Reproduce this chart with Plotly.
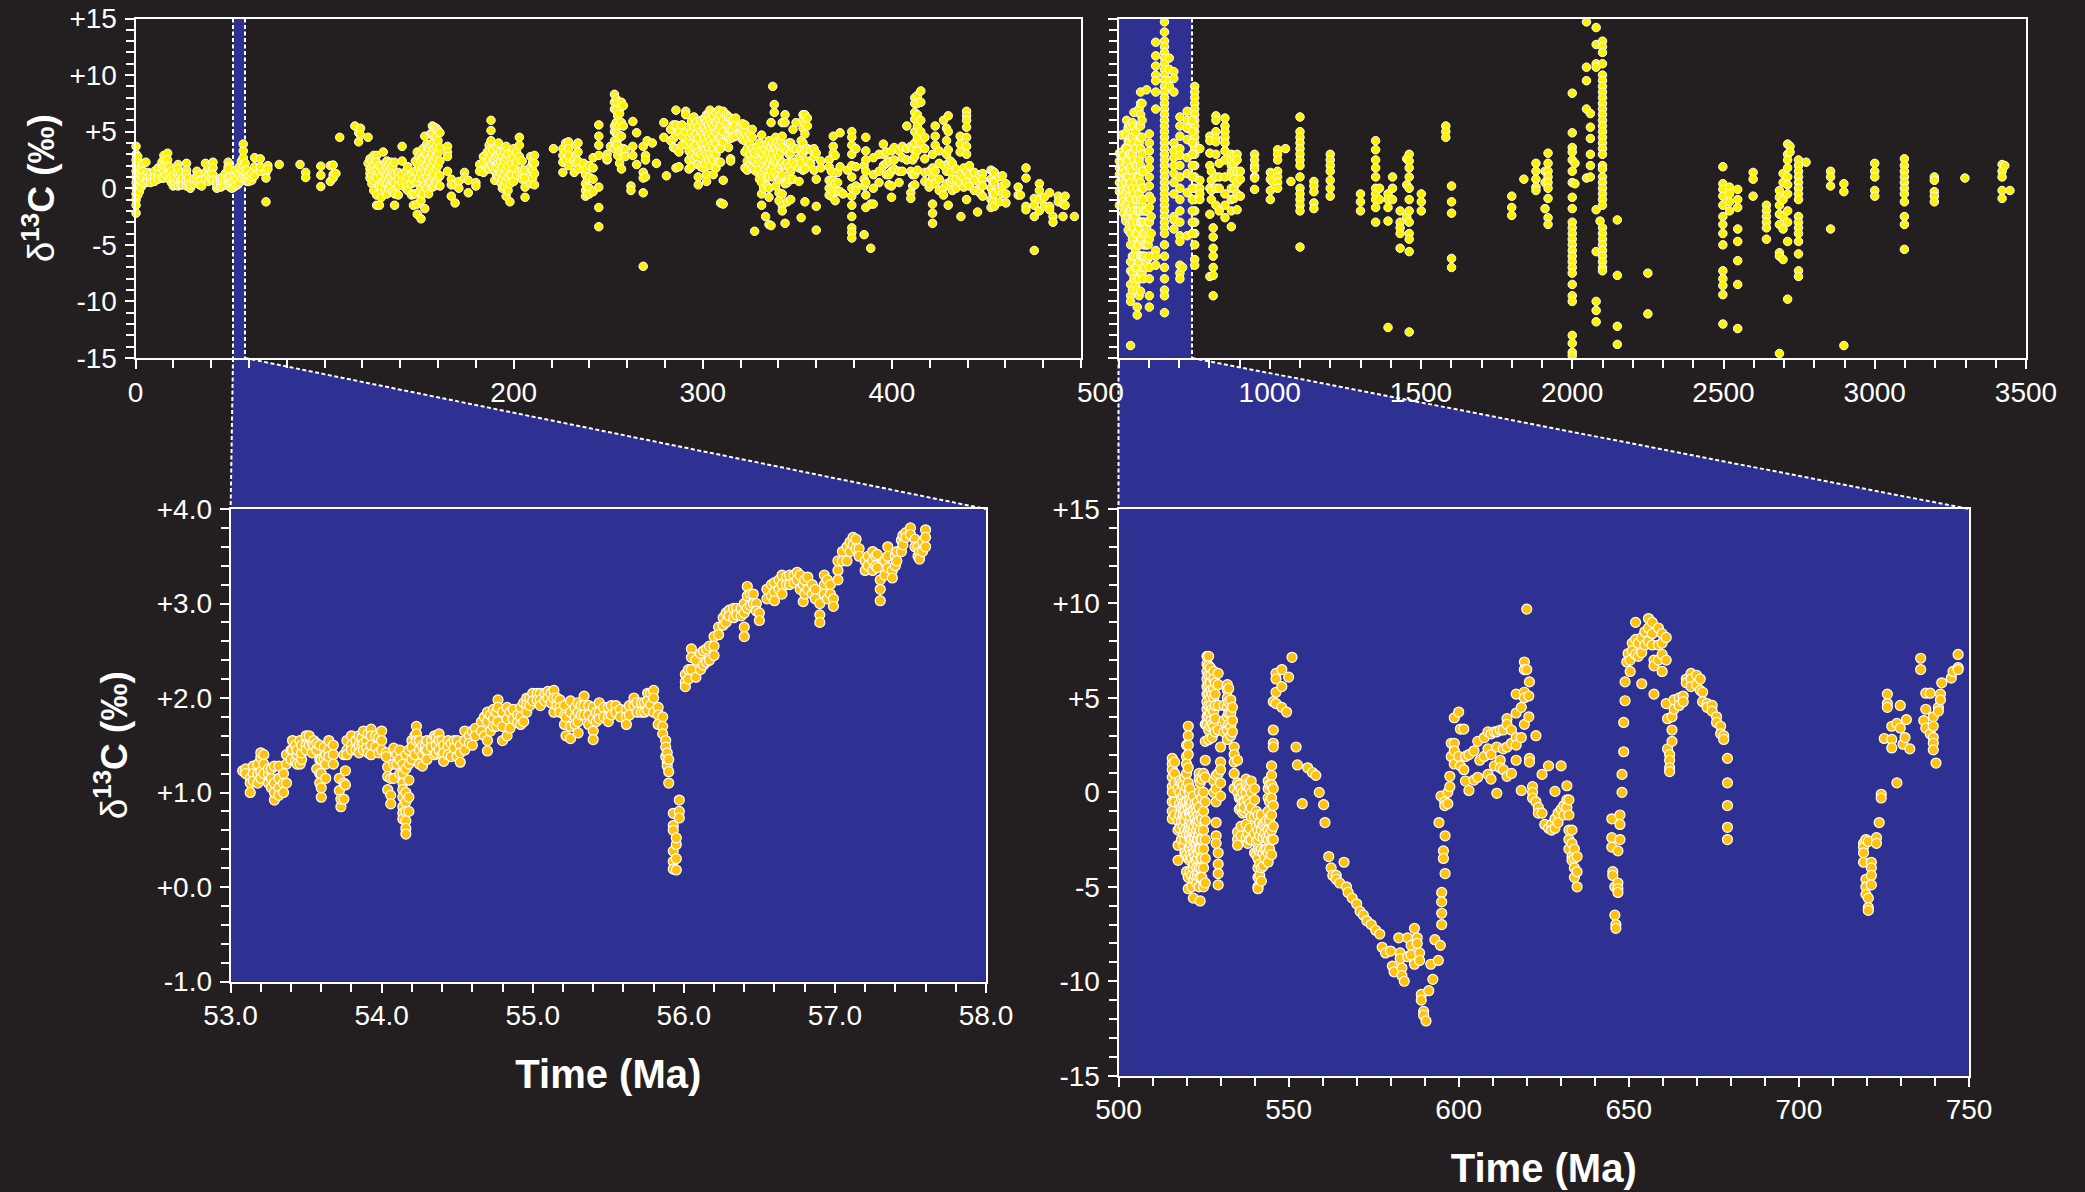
import plotly.graph_objects as go

BG = "#231F20"; BLUE = "#2E3192"; YELLOW = "#FFF200"; GOLD = "#FFC20E"; WHITE = "#FFFFFF"
W, H = 2085, 1192

# (age in Ma, d13C values read at that age)
panel_a_columns = [
(0.3,[3.7,3,2.5,2,1.5,1,0.5,0,-0.5,-1,-1.5,-2.2]),(1.2,[2.8,2.2,1.6,0.9,0.2,-0.6]),(2,[1.2,0.8,0.2,-0.3]),(3,[1.6,1.1,0.6,0.1]),(4,[2.2,1.5,1,0.4]),(5.5,[2.3,1.1,0.5]),(6.5,[1.4,0.9,0.6]),
(8,[1.3,0.8,0.5]),(10,[1.5,0.9,0.6]),(12,[1.8,1.2,0.8]),(14,[2.3,1.8,0.9]),(15,[2.9,2.5,2,1.5,0.9]),(16,[2.6,1.9,1.2]),(17,[3.1,2.5,2,1.1]),(18,[1.9,1.3,0.8]),
(19,[1.5,1,0.5]),(20,[1.1,0.6,0.2]),(21,[0.3,0.6,0.9]),(22.5,[2.1,1.7,1.3,0.8,0.2]),(24,[1.3,0.7,0.3]),(25,[0.5,0.3,0.9]),(27,[2.2,1.6,1.2,0.7,0.2]),(28,[0.9,0.4]),(29,[0,0.3]),
(31,[0.4,0.8]),(32.5,[1.5,1.1,0.6]),(34,[1.2,0.7,0.3]),(35,[0.7,0.2]),(37,[2.2,1.4,0.8]),(38.5,[1.9,1.2,0.6]),(40,[1.3,0.8]),(41,[2.3,1.8,1.2,0.7]),
(43,[0.6,0,0.3]),(45,[0.9,0.4,0.1]),(46,[0.2,0.6,0.9]),(47.5,[1.3,0.8,0.3]),(49,[2.3,1.9,1.7,0.9,0.4]),(50,[1,0.5,0.1]),(51,[0.1,0.6,0]),(52,[1.1,0.5,0.1]),(53,[1.6,1.0,0.3]),(54,[1.4,0.8,0.3]),(55,[1.2,1.9,0.5]),
(56,[2.4,1.6,0.9]),(57,[3.9,3.3,2.7,2,1,1.5]),(58,[2.2,1.4,0.9]),(59,[1,1.6,0.6]),(60,[1.1,0.6]),(61.5,[0.7,1,1.3]),(63,[2.7,1.9,1.1]),(66,[2.6,1.5,1.9]),(69,[1.4,0.9,-1.2]),
(70,[2.0,1.7]),(76,[2.1]),(87,[2.1]),(90,[1.4,0.95]),(98,[1.95,1.15,0.15]),(103,[2.0,0.6]),(104.5,[1.2,0.9,2.05]),(106,[1.3]),
(108,[4.5]),(116,[5.5]),(118,[4.1,4.9]),(119,[5.3,4.7]),(123,[4.5,2.2]),(124,[2.6,1.7,0.9,1.3]),(125,[2.4,1.9,1.2,0.4]),(126,[2.9,2.1,1.5,0.7,-0.2]),
(127.5,[2.9,2.3,1.5,0.9,-0.6,-1.5]),(129,[2,1.4,0.2,-1.5]),(130,[1.9,1,0.1,-0.8]),(131,[3.2,1.5,0.6]),(132,[2.2,1.4,0.7,-0.2]),(133,[2.4,1.8,1.2,0.5,-0.5]),(134,[2.1,1.5,0.8,0]),(135,[2.3,1.7,1,0.2]),(136,[1.9,1.3,0.6,-0.3]),
(137,[2.3,1.2,0.5,-0.5,-1.5]),(139,[1.4,0.8,0.2,-0.6]),(141,[3.7,2.4,1.2,0.6]),(143,[1.5,0.6,0]),(144,[1.9,1,0.2,-0.2]),(146,[1.2,0.4,-0.6]),(147,[1.4,0.8,-0.5,-1.5]),(148,[2.4,1.5,0.5,-0.5]),(149,[3.2,2.2,1.3,0.6,-1.4,-2.3]),(150,[2.8,1.9,0.9,-0.3]),
(151,[3.2,2.5,1.4,0,-1.1,-2.7]),(152,[3.5,2.7,1.8,0.8,-0.5]),(153,[4.6,3.1,1.5,0.3,-1.8]),(154,[3.9,3,2,1,0]),(155,[3.6,2.5,1.5,0.5,-0.5]),(156,[4.8,3.8,2.8,1.8,0.6]),(157,[5.5,4.8,4,3,2,1,0.1]),(158,[5.4,4.5,3.5,2.4,1.2,0.2]),
(159,[5.3,4.5,3.7,2.8,1.7,0.5]),(160,[5.1,4.2,3.1,2,0.9]),(161,[4.9,3.6,2.4,1.1,0.2]),(165,[3.7,3.2,2.8,1.5]),(167,[0.8,0.3,-0.7]),(169,[0.3,-1.3]),
(171,[0.6,0]),(174,[1.4,0.9]),(176,[0.7,-0.4]),(180,[0.5,0.2]),(182,[2.1,1.5]),(184,[2.8,2.3,1.4]),(186,[3.2,2.4,1.8]),(187,[3.8,3.3,2.6,1.7]),
(188,[6,5.1,4.2,3,2]),(189,[3.4,2.6,1.8]),(190,[1.5,0.7,2.6]),(191,[3.6,2.8,1.9,1.1]),(192,[4,3,2.2,1]),(193,[3.2,2.4,1.4,0.5]),(194,[2.8,1.9,0.8,0]),(195,[3.3,2.4,1.2,0.2]),(196,[3.7,2.7,1.6,0.6,-0.7]),(197,[3,2,1,-0.2]),(198,[2.4,1.2,0.4,-1.2]),(199,[3,2.2,1.2]),
(200,[3.5,2.7,1.8,0.6]),(201.5,[3.2,2.3,1.2]),(203,[4.5,3.8,2.8,1.5]),(204.5,[2.4,1.6,0.8]),(206,[1.6,0.9,0.1,-0.8]),(209,[2.8,1.9,1.3,0.4]),(210,[2.3,1.6,0.9]),(211,[2.9,2.2,1.3,0.3]),
(221,[3.5]),(226,[3.5,2.9,2.3,1.4]),(227.5,[4,3.2,2.5]),(229,[4.1,3.5,2.9,2]),(232,[2.5,1.4]),(233,[3.8,3,2.2]),(234,[4,3.2,2.4,1.7]),(237,[1.6,2.2]),
(238,[1.2,0.4,-0.2,-0.7]),(239,[1.7,0.8,0.1,-0.5]),(240,[2,1,0,-0.5]),(242,[2.7,1.8,0.8,-0.3]),(245,[5.6,4.6,3.8,2.9,0.1,-1.7,-3.4]),
(249.4,[2.5,3.0,2.6]),(251.2,[3.7]),(253.3,[8.3,7.6,7,5.5,5,4.2,3.5]),(254.2,[7.9,6.9,5.8,4.9,3.9]),(255,[7.6,6.4,5.5,4.8,3.8,2.9]),(256,[6.6,5.6,4.5,3.3,2.2]),(257,[7.6,7.2,5.8,4.6,3.4,1.7]),
(258,[7.3,5.5,3.5]),(259,[3.4,2.8]),(262,[0.2,-0.2]),(263,[5.9,3.7,2.9]),(265,[4.9,2.1]),(268.5,[3.7,1.4,0.9,-0.4,-6.9]),
(269.7,[2.9,1.0,2.5]),(270.6,[4.2]),(273.3,[4]),(275.5,[2.2]),(279.4,[5.8,4.5]),(280.8,[1.1]),(283,[5.2,4.2]),(284.5,[5.6,4.4,3.6]),
(285.8,[6.9,5.6,4.7,3.5,1.8]),(287.4,[5,3.2,1.9]),(289,[5.6,4.6,3.8]),(291,[6.8,6.5,5,3.9]),(292.7,[5.4,4.2,3.3,2.5,1.7]),(294,[5.9,4.9,3.9,2.9,1.9]),(295.3,[6.3,5.5,4.6,3.7,2.6]),(296.5,[5.8,4.8,3.8,2.8]),
(297.6,[5.4,4.4,3.2,2.1,1,0.3]),(299,[6,5,4,3,1.9]),(300.3,[5.7,4.8,3.9,2.8,1.8]),(301,[6.2,5.3,4.4,3.4,2.2]),(302,[6.5,5.9,5,4,3,1.2,0.6]),(303,[6.6,5.6,4.7,3.6,2.5]),(303.8,[6.9,6,5.2,4.2,3,2]),(304.7,[6.6,5.7,4.8,3.8,2.7]),
(305.5,[6.4,5.5,4.6,3.6,2.5,1.2]),(307,[6.7,5.8,4.9,4,3,1.8]),(308.5,[6.9,6.1,5.2,4.4,3.5,2.3]),(309.4,[6.5,5.5,4.5,3.5,2.3,-1.3]),(310.8,[6.8,6,5,4.1,0.7,-1.4]),
(312.6,[6.5,5.7,4.6]),(313.6,[6.3,5.4,4.5,3.6]),(314.7,[6.2,5.3,4.4,2.6,2.4]),(316,[6.1,5.3,4.5]),(317.4,[6.2,5.5,4.6]),(319.7,[5.5,4.8]),(321,[5.7,5,4.3]),(322.3,[5.6,4.9,4.2,3.2,1.8]),
(323.5,[4.5,3.5,2.4,1.6]),(325,[4.8,3.9,3,2.1]),(326.2,[5.2,4.5,3.5,2.5,1.8]),(327.4,[3.2,2.4,1.6,-3.8]),(329,[3.7,3,2.2,1.4]),(330,[4,3.2,2.4,1.6,0.8]),(331.1,[4.7,3.2,2.2,1.2,0.5,-0.5,-1.5]),(332.2,[3.8,3,2,1,0]),
(333.2,[3.5,2.5,1.7,-2.5]),(334.1,[3.9,3,2,1,0.2]),(335,[4.2,3.2,2.2,1,0,-0.8,-3.2]),(336.1,[5.8,3.6,2.6,1.6,-3.3]),(337,[9.0,4,3,2,1]),(337.8,[7.4,6.7,3.6,2.4]),(338.5,[4.5,3.6,2.6,1.4,0.2]),(339.4,[4.1,3.2,2.3,1.1]),
(340.3,[3.8,2.8,1.8,0.8,-0.4,-1.1]),(341.2,[4.2,3.2,2.1,1]),(342,[5.8,4.6,3.6,2.3,1.2,-0.5,-1.5,-2]),(343.5,[6.5,5.8,3.5,2,0.4,-3.1]),(344.7,[3.3,2.2,0.5,-1.2]),(345.6,[4,3,1.8,0.8]),
(346.5,[4,3.1,1.5,-1]),(347.7,[5.2,3.6,2.3,0.8]),(349.3,[5.8,3.5,2]),(350.9,[2.7,1.8,0.6]),(352,[4.2,3.3,2.2,-2.6]),
(353,[6.5,6,5.3,4,3.1,1.6]),(354,[6.5,5.7,4.8,3.4,1.7,-1.2]),(355.3,[6.2,5.5,3.5,2.4]),(357,[3.4,2.2]),(358.8,[3.5,2.8,1.6]),
(360,[3.1,0.8,-1.6,-3.7]),(362.4,[2.4,1.8]),(366.8,[2.5,1.9,0.7,0,-0.6]),(368,[1.5,0.6,-0.1,-0.7]),(369,[4.6,3.7,3.1,0.7,-0.3]),(370,[2.9,0.4,-1.1]),(371.3,[1.4,0.5,-0.3]),
(372.6,[4.9,1.9,-0.3]),(374.2,[-0.5]),(376.5,[1.6]),(378.8,[5,4.5,3.8,3,2,1,0,-0.7,-1.5,-2.5,-3.5,-3.9,-4.4]),(381,[3.5,1.9,0.2,-0.2]),
(385.3,[2,0.8,0.2,-4.1]),(386.2,[4.5,3.3,2.5,1.5,0.5,-0.6,-1.7]),(388.8,[-1.4,-5.3]),(390.2,[2.7,1.2,0,-1.4]),(393.2,[3,1.5,0.5]),
(395.5,[3.9,3,2]),(397,[3.2,2.2,1.2]),(398.5,[1.2,0.3,2.4]),(399.8,[3.3,0.2,-0.8,1.5]),(401.2,[3.6,2.5,1.7]),(403.8,[3.3,1.5,0.5]),(405.5,[3.7,2.7,1.5]),(407.9,[5.5,3.5,2.5]),
(410,[3.7,1.5,-0.4,-0.9]),(411,[3.5,2.5,1.2,0.2]),(412.1,[8.0,7.5,6.7,6.1,5,4,2.8,1.2,0.3]),(413.5,[8.2,7.5,6.5,5.5,4.5,3.3,1.6]),(415.3,[8.6,7.6,6,5,4]),
(417.4,[4.5,3.5,2.6,1.4,0.6]),(419.7,[1.5,0.5,0.1,0.4]),(421.5,[3,1.8,1,-1.4,-2.2,-3.1]),(422.9,[5.5,4.6,3.8,1.5,0.4]),(425,[3.3,2.2,0.8,-0.2]),
(427.3,[6,2,0,-0.6]),(428.9,[5.3,4.2,3,1.5,0.4]),(429.8,[6.4,5,3.4,2.2,-1.5]),(431,[2.4,1.4,0.6]),(432,[2.2,0.8,-0.2]),(434,[1.7,0.8,0]),(436.1,[4.6,3.9,3.2,1.2,0.5]),
(436.5,[-2.5]),(438,[1.8,0.9,0.1]),(439.5,[6.8,6.4,6,5.4,4.5,3.7,3,1.5,0.5,-1]),(441,[2,1.2,0.2]),(443.6,[1.4,0.7,-0.2]),(445.3,[-2.1]),(446.5,[1.2,0.4,-0.4]),
(448,[1.3,0.8,0.2,-0.7]),(452.4,[1.6,0.8,0,-1,-1.7]),(453.3,[1.5,0.6,-0.4,-1.2]),(454.2,[1.4,0.5,-0.5,-1.6]),(456.8,[1,-0.2,-1.2]),(458.5,[1.1,0.2,-0.5]),
(460.3,[0.4,-0.5,-1.3]),(466.8,[0.1,-0.6]),(468,[-0.6]),(470.9,[1.8,0.9,-1.6,-1.9]),(475.3,[-0.9,-1.5,-2.5,-5.5]),
(478,[0.4,-0.2,-1,-2]),(480.6,[-0.8,-1.6]),(483.4,[-0.4,-1.6,-1.9]),(485.2,[-2.5,-3]),(488,[-0.7,-1.2]),(490.5,[-1.4,-2.5]),
(491.6,[-0.7,-1.5]),(496.5,[-2.5]),
]

panel_b_columns = [
(503,[3.1,2.4,1.8,1.2,0.5,-0.3,-1.5]),(510,[4.7,3.2,2.2,1.5,0.4,-0.8]),(517,[2.9,1.8,0.8,-0.2,-1.2,-2.2]),(524,[4.9,3.6,2.4,1.5,0.5,-0.5,-1.6,-2.6,-2.9]),(527,[6,4.7,3.5,2.2,1,-0.2,-1.4]),(532,[5.4,4.2,2.5,1,0,-1.2,-2.5,-3.7]),
(536,[5.6,4.2,3,1.6,0.4,-0.8,-2.1,-3.2]),(540,[5.5,4.5,3,1.8,0.5,-1,-2,-3,-4,-5,-6.5,-7.3,-8.5,-9.5,-10,-13.9]),(546,[5.8,4.5,3,1.5,0,-1.5,-3,-4.5,-6,-7.5,-9]),(551,[6.7,5.5,4,2.5,1,-0.5,-2,-3.5,-5,-6,-8]),
(557,[5,3.5,2,0.5,-1,-2.5,-4,-5.5,-7,-8.5]),(562,[2,1,0,-1,-2,-3,-4,-5,-6,-7,-8,-9,-10.5,-11.2]),(568,[7,5.5,4,2.5,1,-0.5,-2,-3.5,-5,-6.5,-8,-9.5]),(573,[8.5,7.5,6.5,5.5,4.5,3.5,2,0.5,-1,-2,-3,-4.5,-6,-7.5,-9.1]),(578,[7.5,6,4.5,3,1.5,0,-1.5,-3,-4.5,-6,-7.5]),(582,[1.5,0,-1,-2,-3,-4,-5,-6,-7,-8]),
(588,[-2,-3,-4,-5,-6,-7]),(593,[8.7,-2,-3.5,-5,-6.5]),(598,[-3,-4,-5,-6.2]),(602,[4.8,4,3.3,2.5,1.8,1,0.2,-0.7,-1.7,-3,-4.5,-6,-7,-8,-9.5,-10.5]),(608,[-1,-2.5,-4]),(623,[12.9,11.7,10.8,10,9.5,8.5,7,-5.5,-6,-6.8]),
(652,[15.2,14.7,13.8,13,12.5,12,11.5,11,10.5,10,9.5,9,8.5,8,7.5,7,6.5,6,5.5,5,4.5,4,3.5,3,2.5,2,1.5,1,0.5,0,-0.5,-1,-1.5,-2,-2.5,-3,-3.5,-4,-5,-6,-7,-8,-9,-9.5,-11]),
(668,[11.5,10.5,9.5,9]),(683,[10.3,9.7,8.5,4,3.3,2.7,2,1.3,0.5,-0.5,-2.5,-2.8,-3.6]),(703,[6.3,5.5,4.6,3.5,2.9,2,1,0,-1,-2,-3,-4.2,-4.7,-6.8,-7.5,-8]),
(712,[-7]),(727,[6.8,6,5.3,4.3,2.7,1.3,-0.4,-4.2]),(752,[9,8.5,8,7.5,7,6.5,6,5.5,5,4.5,4,3.5,3,2,1,0,-1,-2,-3,-4,-5,-6.3,-6.8]),(744,[6,5,4,3,2,1,0,-1,-2,-3,-4]),
(769,[3.5,0.7,0,-0.5,-1]),(802,[4.6,4.2,3.1,2,0,-2.3,-7.8]),(807,[1.5,0.7,-0.2,-1]),(813,[-3.5,-4.3,-5.3,-6,-7,-7.7,-9.5]),
(822,[6.4,6,5,4.4,4.1,3,1,0,-1.5]),(833,[2.2,1,0,-2]),(852,[6.2,5.5,5,4.5,4,3.3,2.5,1,-0.5,-1.5,-2.6]),(873,[3,2.5,2,1.5,1,0,-1,-2,-3.4]),(882,[2.9,2.2,1.5,0.8,0,-0.9]),
(892,[3,2.5,1.5,0.5,-0.5,-1.9]),(903,[1.5,0.8,-0.7]),(950,[3,2.5,2,1.7,1,0.9,-0.1]),(1002,[1.4,0.8,-0.2,-1]),(1008,[1.3,0.6]),
(1026,[3.4,3,2.5,1.5,1,0.5,0]),(1052,[3.5]),(1070,[0.6]),(1100,[6.3,5,4.5,4,3.5,3,2.5,2,1,0,-0.5,-1,-1.5,-2,-5.2]),
(1146,[0.6,0.2,-0.3,-1.3,-1.8]),(1200,[3,2.5,2,1.5,0.7,0,-0.7]),(1300,[-0.5,-1.2,-2]),(1350,[4.2,3.4,2.5,1.8,1,0,-0.5,-1,-1.7,-3]),
(1363,[0,-1]),(1391,[-0.5,-1,-1.7,-2.9,-12.3]),(1406,[1,0,-1]),(1431,[-2,-3,-3.5,-4,-5.3]),(1453,[2.6,0.3,-2.5]),
(1461,[3,2.4,1.8,1,0,-1,-2,-3,-4,-4.5,-5.6,-12.7]),(1501,[-0.5,-1.2,-2]),(1582,[5.5,5,4.5]),(1601,[0.2,-1.2,-2.2,-6.2,-7]),
(1800,[-0.7,-1.7,-2.4]),(1840,[0.8]),(1880,[2.2,1.5,0.8,0.1,-0.2]),(1910,[1.5,0.5,-1.8]),(1920,[3.1,2.2,1.5,1,0.5,0,-0.9,-2.6,-3.2]),
(2000,[8.4,4.9,3.6,3.2,2.5,1.5,0.5,-0.8,-1.8,-3,-3.5,-4,-4.5,-5,-5.5,-6,-6.5,-7,-7.5,-8.5,-9.5,-10,-13,-13.7,-14.5,-14.8]),
(2009,[2.2,0.4]),(2047,[14.7,10.7,9.5,7,0.9]),(2060,[6.6,5.4,4.4,3,2,1]),(2079,[14.2,12.7,11,10.7,-1.9,-5.6,-10,-10.8,-11.8]),(2092,[-2.9]),
(2100,[13,12.5,12,11,10,9.5,9,8.5,8,7.5,7,6.5,6,5.5,5,4.5,4,3.5,3,2,1.7,1,0.5,0,-0.5,-1,-1.5,-3.5,-4,-4.5,-5,-5.5,-6,-6.5,-7,-7.3]),
(2149,[-2.8,-7.7,-12.2,-13.8]),(2250,[-7.5,-11.1]),(2498,[1.9,0.4,-0.1,-0.7,-1.5,-2.5,-3.2,-4,-5,-7.3,-8,-8.6,-9.4,-12]),
(2520,[0.1,-0.5,-1.2,-2]),(2547,[-0.1,-1,-1.7,-3.6,-4.7,-6.4,-8.5,-12.4]),(2598,[1.4,0.8,-0.7]),(2642,[-1.5,-2,-2.5,-3,-3.5,-4.5]),
(2685,[-0.2,-0.8,-1.5,-2.3,-3.2,-5.7,-6,-14.6]),(2697,[1.3,0.5,-1,-2.5,-3.6,-6.3]),(2712,[3.9,3,2.5,1.8,1,0.3,-0.5,-2,-3,-4.7,-9.8]),
(2720,[3.7,3.2]),(2748,[2.5,2,1.5,1,0.5,0,-0.5,-1,-2.5,-3,-3.5,-4,-4.7,-5.8,-7.3,-7.8]),(2773,[2.3]),(2854,[1.5,1,0.2,-3.6]),
(2898,[0.4,-0.3,-13.9]),(3000,[2.2,1.5,1,-0.2,-0.7]),(3098,[2.6,2,1.5,1,0.5,0,-0.5,-1.2,-2.5,-3.2,-5.4]),(3197,[1,0.7,-0.3,-0.7,-1.2]),
(3298,[0.9]),(3421,[2.1,1.5,1,-0.2,-0.9]),(3430,[2.0]),(3447,[-0.2]),
]

panel_c_columns = [
(53.08,[1.23]),(53.1,[1.25,1.2]),(53.13,[1.15,1.1,1.0]),(53.15,[1.28,1.2,1.12]),(53.18,[1.1,1.2,1.3]),(53.2,[1.37,1.42,1.22,1.15]),
(53.22,[1.4,1.3,1.2]),(53.25,[1.1,1.2,1.25]),(53.27,[1.15,1.05,1.25]),(53.29,[0.92,1.0,1.1,1.28]),(53.32,[1.28,1.15,1.05,0.97]),
(53.35,[1.2,1.1,1.0]),(53.37,[1.4,1.3,1.1]),(53.4,[1.45,1.35]),(53.41,[1.55,1.45]),(53.43,[1.5,1.33]),(53.44,[1.3,1.4,1.45]),(53.46,[1.55,1.3]),(53.47,[1.35,1.42,1.5]),
(53.5,[1.6,1.5,1.45]),(53.52,[1.6,1.5]),(53.54,[1.52,1.42]),(53.55,[1.55,1.5]),(53.57,[1.25,1.45,1.52]),(53.59,[1.5,1.35,1.2,1.1]),(53.6,[0.95,1.05,1.2,1.35]),
(53.62,[1.48,1.36]),(53.63,[1.4,1.3,1.15]),(53.65,[1.55,1.45,1.38]),(53.68,[1.5,1.4,1.3]),(53.72,[1.15,1.02]),(53.73,[0.85,0.93]),(53.75,[1.4,0.93,1.1]),
(53.76,[1.23,1.08]),(53.77,[1.55,1.45,1.4]),(53.8,[1.6,1.5,1.45]),(53.83,[1.55,1.45]),(53.85,[1.6,1.5,1.42]),(53.87,[1.58,1.5]),(53.88,[1.65,1.52,1.45]),
(53.9,[1.55,1.47]),(53.91,[1.62,1.42]),(53.93,[1.67,1.6,1.5,1.4]),(53.96,[1.6,1.48]),(53.98,[1.58,1.42]),(54.0,[1.65,1.55,1.45]),(54.03,[1.42,1.38]),(54.04,[1.27,1.17,1.03]),
(54.06,[1.15,0.97,0.88]),(54.08,[1.47,1.3,1.15]),(54.1,[1.4,1.3]),(54.12,[1.45,1.35,1.2]),(54.14,[1.3,1.2,1.1,1.03,0.95,0.85,0.78,0.72]),
(54.16,[1.4,1.25,1.0,0.9,0.8,0.7,0.62,0.56]),(54.18,[1.45,1.3,1.13,0.95,0.8]),(54.2,[1.55,1.48,1.35]),(54.22,[1.6,1.4]),(54.23,[1.7,1.62,1.55]),(54.25,[1.55,1.45,1.3]),
(54.27,[1.5,1.4,1.28]),(54.29,[1.45,1.5]),(54.3,[1.55,1.45,1.35]),(54.33,[1.55,1.48]),(54.35,[1.6,1.4]),(54.36,[1.58,1.5,1.42]),(54.38,[1.62,1.55,1.45]),(54.4,[1.55,1.4]),(54.41,[1.5,1.42,1.33]),(54.44,[1.55,1.48,1.4]),
(54.46,[1.52,1.38]),(54.48,[1.55,1.47]),(54.5,[1.55,1.38]),(54.52,[1.5,1.42,1.32]),(54.55,[1.65,1.55,1.45]),(54.58,[1.6,1.52]),(54.6,[1.65,1.5]),(54.62,[1.68,1.6]),(54.66,[1.75,1.65]),
(54.68,[1.8,1.6]),(54.7,[1.85,1.75,1.55,1.44]),(54.72,[1.82,1.65]),(54.74,[1.88,1.78,1.7]),(54.76,[1.85,1.7]),(54.77,[1.98,1.9,1.75]),(54.8,[1.85,1.7,1.55]),(54.83,[1.9,1.78,1.6]),(54.85,[1.85,1.68]),(54.87,[1.88,1.78]),
(54.9,[1.82,1.74]),(54.92,[1.9,1.8,1.72]),(54.94,[1.95,1.75]),(54.96,[2.0,1.93,1.85]),(54.98,[2.0,1.92]),(55.0,[2.05,1.97]),(55.03,[2.05,1.98]),(55.05,[2.05,1.98,1.92]),(55.08,[2.05,1.97]),(55.1,[2.07,2.0]),(55.12,[2.05,1.95]),(55.14,[2.08,2.0,1.85]),
(55.16,[2.0,1.92]),(55.18,[1.98,1.9,1.85]),(55.21,[1.92,1.82,1.72]),(55.22,[1.8,1.6]),(55.25,[1.97,1.85,1.7,1.57]),(55.28,[1.9,1.8,1.72]),(55.3,[1.95,1.85,1.75,1.63]),(55.32,[1.92,1.82]),
(55.34,[2.02,1.92,1.82]),(55.37,[1.92,1.82,1.72]),(55.4,[1.9,1.78,1.65,1.56]),(55.42,[1.85,1.75]),(55.44,[1.95,1.85,1.78]),(55.47,[1.9,1.8]),(55.5,[1.9,1.8,1.75]),(55.52,[1.92,1.82]),(55.55,[1.92,1.85]),(55.58,[1.88,1.8]),(55.62,[1.88,1.8,1.72]),(55.64,[1.92,1.82]),
(55.67,[2.0,1.92]),(55.69,[1.95,1.85]),(55.72,[1.95,1.85]),(55.74,[1.95,1.85]),(55.76,[2.05,1.97,1.87]),(55.78,[2.05,1.93]),(55.8,[2.08,2.0,1.85]),(55.83,[1.9,1.82,1.72]),(55.86,[1.8,1.7,1.62]),
(55.88,[1.55,1.48,1.38]),(55.89,[1.42,1.32,1.28]),(55.9,[1.35,1.22,1.1]),(55.93,[0.78,0.65,0.6,0.38,0.27,0.19]),(55.95,[0.18,0.3,0.45,0.52]),(55.97,[0.92,0.8,0.73]),
(56.01,[2.25,2.17,2.12]),(56.03,[2.3,2.2]),(56.05,[2.52,2.43,2.3]),(56.08,[2.4,2.22]),(56.11,[2.47,2.3]),(56.13,[2.5,2.35]),(56.15,[2.52,2.38]),(56.17,[2.55,2.4]),
(56.2,[2.65,2.55,2.45]),(56.23,[2.75,2.67]),(56.26,[2.85,2.77]),(56.28,[2.9,2.8]),(56.3,[2.93,2.87]),(56.33,[2.95,2.85]),(56.35,[2.95,2.88]),(56.38,[2.95,2.87]),(56.4,[3.0,2.9,2.75,2.65]),
(56.42,[3.18,3.08,2.95]),(56.44,[3.1,2.98]),(56.46,[3.1,3.0]),(56.48,[3.0,2.92]),(56.5,[2.9,2.82]),(56.55,[3.15,3.05]),(56.58,[3.2,3.08]),(56.6,[3.22,3.12,3.03]),(56.63,[3.25,3.15]),(56.65,[3.3,3.2,3.1]),
(56.68,[3.28,3.2]),(56.7,[3.3,3.2]),(56.73,[3.3,3.22]),(56.75,[3.33,3.25]),(56.77,[3.3,3.15]),(56.79,[3.2,3.02]),(56.8,[3.25,3.1]),(56.82,[3.28,3.15]),(56.85,[3.2,3.1]),(56.87,[3.15,3.05]),(56.9,[3.0,2.88,2.8]),(56.93,[3.3,3.2,3.1]),
(56.95,[3.25,3.05]),(56.97,[3.2,3.1]),(56.99,[3.05,2.97]),(57.02,[3.35,3.25,3.45]),(57.05,[3.55,3.45]),(57.08,[3.6,3.45]),(57.1,[3.65,3.55]),(57.12,[3.7,3.62]),(57.14,[3.68,3.58]),(57.16,[3.58,3.5]),
(57.2,[3.45,3.35]),(57.22,[3.5,3.4]),(57.25,[3.55,3.45,3.35]),(57.27,[3.5,3.4]),(57.28,[3.52,3.38]),(57.3,[3.25,3.15,3.03]),(57.33,[3.45,3.3]),(57.35,[3.6,3.5,3.38]),
(57.38,[3.35,3.27]),(57.4,[3.5,3.4]),(57.41,[3.55,3.45]),(57.44,[3.67,3.55]),(57.45,[3.72,3.62]),(57.47,[3.75,3.7]),(57.5,[3.8,3.73]),(57.53,[3.68,3.6]),(57.55,[3.6,3.5]),(57.56,[3.55,3.47]),
(57.58,[3.65,3.55]),(57.6,[3.78,3.7,3.6]),
]

panel_d_columns = [
(515.8,[1.8,1.5,1.2,0.8,0.3,0,-0.5,-1,-1.4]),(516.5,[1.6,1.0,0.5,-0.5,-1.2]),(517.5,[0.2,-1.5,-2,-2.8,-3.6]),(518,[0.6,0,-0.6,-1.2,-1.9]),(518.5,[0.5,-0.3,-0.8,-1.5,-2.5]),
(519,[0.4,-0.2,-0.7,-1.2,-1.8]),(519.2,[-0.9,-1.4,-2.2,-2.8]),(519.5,[0.8,0,-0.5,-1,-1.5,-2,-2.5,-3.2]),(520,[2.5,1.9,1.5,1,0.3,-0.5,-1.2,-2.2,-3.3,-4.2]),(520.5,[3.5,3,2.5,2,1.3,0.5,-0.8,-2,-3.5,-4.5,-5.1]),
(520.8,[0,-0.6,-1.1,-1.7,-2.3,-2.9]),(521,[0.2,-0.4,-1,-1.5,-2,-2.5,-3,-3.6,-4.2]),(521.2,[-0.7,-1.3,-1.9,-2.7,-3.3]),(521.5,[-0.5,-1,-1.7,-2.5,-3.5,-4.4,-5]),(522,[-0.2,-1,-2,-3,-4,-5.6]),(522.2,[-1.2,-1.8,-2.5,-3.2,-3.8,-4.6]),(522.5,[-0.6,-1.4,-2.4,-3.4,-4.4]),(522.8,[-0.8,-1.6,-2.2,-2.8,-3.6]),(523,[-1,-2,-3,-4,-4.8]),(523.2,[-0.5,-1.5,-2.5,-3.5,-4.4]),(523.4,[-1.2,-1.8,-2.5,-3.2,-4.2]),(523.7,[1,0.7,0,-0.8,-1.5,-2.2,-3,-4,-5]),
(524,[0.5,-2,-3,-4.5,-5.75]),(524.2,[-1.2,-2.5,-3.5,-4]),(524.5,[0.7,-0.3,-1.4,-2.5,-3.5,-4.5]),(525,[1,0,-1,-2,-3,-4,-5]),(525.5,[3.6,2.7,1.7,0.8,-0.5,-1.5,-2.5,-3.5,-4.8]),(526,[7.2,6.8,6.4,6,5.6,5.2,4.8,4.4,4,3.6]),
(526.5,[7.2,6.7,6.2,5.7,5.2,4.6,4,3.3,2.8]),(527,[6.6,5.8,5,4.2,3.5]),(527.2,[6.2,5.4,4.6,3.8]),(527.5,[5.2,4.4,3.6,2.9]),(528,[6.4,6,5.5,5,4.3,3.5,0.6,0]),(528.4,[5.8,5.2,4.6,3.9,3.2]),(528.7,[0.9,0.2,-0.5,-1.6,-2.3,-2.7]),
(529.3,[6.3,5.7,4.6,3.3,1,-3.2,-3.8,-4.3,-4.9]),(530,[2.4,1.6,1.2,0.5,-0.2]),(531,[4.6,3.8,3.2]),(532,[5.7,5.4,5,4.5,4,3.3,2.8]),(532.4,[5.5,4.8,4.2,3.6]),(533,[4.9,4.2,3.5,3]),(533.5,[4.5,3.8,3.2]),
(534,[2.4,2,1.6,1.0,0.2]),(535,[1.7,0.5,0,-2.1,-2.5,-2.8]),(535.5,[0.4,-0.3,-0.9]),(536,[0.2,-0.3,-0.8,-1.8,-2.3]),(536.5,[0,-0.5,-1.1]),(537,[-0.5,-1,-0.8]),(537.5,[0.7,0.4,0,-1.7,-2.4]),
(538,[0.3,-0.4,-2.2,-2.7]),(538.5,[0.2,-0.6,-1,-1.9,-2.5]),(539,[0.6,0,-0.8,-1.3,-2.5]),(540,[0.2,-0.4,-1.3,-2.2,-3.2]),(540.5,[-1,-1.8,-2.6,-3.3]),(541,[-1.2,-2,-2.5,-3,-3.5,-4,-4.5,-5,-5.1]),(541.5,[-1.6,-2.3,-3.1,-3.8,-4.4]),
(542,[-1.2,-2,-3,-4,-4.7]),(542.5,[-1.7,-2.4,-3.2,-3.9]),(543,[-1.6,-2.2,-3,-3.5]),(543.5,[-1.5,-2.4,-3]),(544,[0.6,0.2,-0.3,-1,-2,-2.5,-3.2,-3.7]),(544.4,[0.4,-0.5,-1.5,-2.2,-3]),(545,[1.4,0.9,0.4,-0.3,-1.2,-2,-2.5,-3.3]),
(545.5,[4.8,3.3,2.6,2.4,0.2,-0.7,-1.8,-2.5]),(546.3,[6.3,6,5.3,4.7]),(548,[6.5,5.6,4.5]),(549.4,[4.25]),(550,[6.1]),(551,[7.15]),
(552.2,[2.4]),(552.6,[1.45]),(554,[-0.6]),(555.6,[1.3]),(557,[1.05]),(558,[0.9]),(559,[0]),(560.3,[-0.65]),(560.7,[-1.6]),(561.8,[-3.4]),
(562.5,[-4]),(563,[-4.4]),(564,[-4.4,-4.6]),(565,[-4.8]),(566.3,[-3.7]),(567,[-5]),(567.5,[-5.3]),(568.7,[-5.6]),(570,[-5.9]),(571,[-6.3]),
(572,[-6.5]),(573,[-6.8]),(574.3,[-7]),(575.6,[-7.3]),(576.8,[-7.5]),(577.5,[-8.2]),(578.5,[-8.5]),(580,[-8.4]),(580.5,[-9.2]),(581,[-9.5]),
(582.4,[-7.7]),(582.8,[-8.5,-8.8]),(583.3,[-9.3,-9.7]),(584,[-10]),(585,[-7.7,-8.7]),(586,[-8.1,-8.6]),(587,[-7.2,-9.1]),(587.8,[-7.7,-8]),
(588.5,[-8.5,-8.9]),(589,[-10.7,-11]),(589.7,[-11.6,-11.8]),(590.4,[-12.1]),(591.2,[-10.5]),(591.8,[-9.1]),(592.4,[-9.9]),(593,[-7.8]),
(594,[-8.9]),(594.2,[-1.6]),(594.6,[-8.1]),(594.8,[-0.2]),(595,[-5.3,-5.8,-6.4,-7]),(595.5,[-3.1,-3.5]),(595.9,[-0.5,-0.7]),(596,[-2.3,-4.3]),
(596.8,[0,-0.6]),(597.4,[0.85,0.3]),(597.8,[2.6,1.9]),(598.7,[3.95,2.6,2.2,1.5]),(600,[4.25,1.9]),(600.5,[3.35,1.4]),(601.5,[3.35,1.2]),
(602,[1.9,0.6]),(603,[2,0.1]),(604.5,[2.2,0.65]),(605.6,[2.7,0.8]),(606.2,[1.7]),(607.5,[2.9,1.9]),(608.6,[3.2,2.3,0.95]),(609.5,[3.1,2,0.7]),
(610.5,[3.2,1.4]),(611.2,[3.2,2.4,-0.05]),(612.2,[3.3,1.7,1.3]),(613.1,[3.3,2.3,1.2]),(614.2,[3.9,3.6,2.4,0.85]),(615.5,[3.3,2.6,1.0]),
(616.9,[5.2,4.2,2.9,2.5,1.7]),(618.4,[4.5,2.9,0.1]),(619.3,[6.9,6.5,5.3,5,3.6]),(620,[9.7,6.5]),(620.6,[5.1,4]),(620.8,[5.85,1.8,1.6]),
(621.7,[0.3,0,-0.3]),(622.7,[3,-0.5]),(623.4,[-0.8,-1.1]),(624.5,[0.95,-1.1]),(625.3,[-1.7]),(626.4,[1.4,-1.9]),(627.3,[-1.7,-2]),
(628.3,[0.05,-1.4,-1.9]),(629.2,[-1.1,-1.6]),(630.1,[1.4,-0.9]),(630.9,[-0.7,-1.2]),(631.8,[0.35,-0.4,-0.8]),(632.4,[-0.4,-1.2,-2,-2.5,-3]),
(633.3,[-2,-2.7,-3.4,-3.6]),(634,[-3,-3.5,-4,-4.5]),(634.8,[-3.4,-4.2,-5]),(645,[-1.4,-2.4,-2.9]),(645.3,[-4.2,-4.4]),(645.9,[-5,-6.5]),
(646.2,[-7,-7.2]),(646.8,[-3.1,-4.8,-5.1,-5.3]),(647.4,[-1.2,-1.7,-2.5]),(648,[0.95,0]),(648.5,[3.7,2.15]),(648.9,[5.85,4.85]),(649.4,[6.9]),
(649.8,[7.35]),(650.4,[7,6.4]),(651,[7.9,7.5]),(652,[9,8.1,7.3]),(652.8,[7.9,7.2]),(653.8,[8.2,7.4,5.75]),(654.7,[8.5,7.8]),(655.8,[9.2,8.7,8]),
(656.9,[9,8.4,7.8]),(657.4,[7,6.7,5.2]),(658.7,[8.7,7.8,7]),(659.8,[8.4,7.9,7.3,6.4]),(661,[8.2,7,4.7]),(661.4,[3.9,2.3]),(662,[2,1.7,1.3,1.1]),
(662.7,[4,3.3,2.7]),(663.3,[4.9,4.4]),(664.8,[5,4.6]),(666,[5.1,4.8]),(666.9,[6,5.8]),(668.3,[6.3,6,5.6]),(669.9,[6.2,5.7]),(671,[6,5.4]),
(671.7,[5.3,4.8]),(673,[4.7,4.5]),(674.5,[4.6,4.3]),(675.8,[4,3.7]),(677,[3.5,3.1]),(677.9,[3,2.8]),(679,[1.8,0.5,-0.7,-1.85,-2.5]),
(719,[-2.7,-2.9,-3.2,-3.7]),(719.7,[-2.5,-4.6,-5,-5.4]),(720.4,[-2.6,-5.6,-6.1,-6.25]),(721.3,[-3.7,-4,-4.4,-4.9]),(722.8,[-2.4,-2.7]),
(723.6,[-1.6]),(724.2,[-0.1,-0.3]),(725.1,[2.85]),(726,[5.2,4.7,4.5]),(727.3,[3.5,2.8,2.35]),(728.8,[3.65,0.5]),(729.8,[4.6,3.4]),(730.6,[2.55]),
(731.2,[2.9]),(731.6,[3.85]),(732.6,[2.3]),(735.8,[7.1,6.5]),(736.7,[3.8]),(737.3,[5.25,4.4,3.4]),(738.6,[5.25,3.1]),(739.5,[4,3.5,2.9,2.6,2.25]),
(740.3,[1.55]),(741,[4.5,4.3]),(741.6,[5.2,4.9]),(742,[5.8]),(744.8,[6.05]),(745.3,[6.4]),(746.8,[7.3,6.6,6.5]),
]

a_major = [0, 100, 200, 300, 400, 500]
a_x_ticks = [0, 200, 300, 400]
b_major = [500, 1000, 1500, 2000, 2500, 3000, 3500]
b_x_ticks = [1000, 1500, 2000, 2500, 3000, 3500]
top_y_ticks = [-15, -10, -5, 0, 5, 10, 15]
top_y_labels = ["-15", "-10", "-5", "0", "+5", "+10", "+15"]
c_x_ticks = [53, 54, 55, 56, 57, 58]
c_x_labels = ["53.0", "54.0", "55.0", "56.0", "57.0", "58.0"]
c_y_ticks = [-1, 0, 1, 2, 3, 4]
c_y_labels = ["-1.0", "+0.0", "+1.0", "+2.0", "+3.0", "+4.0"]
d_x_ticks = [500, 550, 600, 650, 700, 750]

def flatten(cols):
    return [a for a, vals in cols for _ in vals], [v for _, vals in cols for v in vals]

def fx(p): return p / W
def fy(p): return 1 - p / H

# pixel boxes of the four panels: left, right, top, bottom
boxes = {"a": (135.5, 1081, 18.5, 358), "b": (1118.5, 2026, 18.5, 358),
         "c": (230.6, 986, 509, 981.5), "d": (1118.5, 1969, 509, 1075.7)}
ids = {"a": "", "b": "2", "c": "3", "d": "4"}
over = {"a": "5", "b": "6", "c": "7", "d": "8"}
TICKF = dict(family="Liberation Sans, Arial, sans-serif", size=28, color=WHITE)
TITLEF = dict(family="Liberation Sans, Arial, sans-serif", size=40, color=WHITE)
YT = "δ<b><sup>13</sup>C (‰)</b>"

fig = go.Figure()
series = {"a": (panel_a_columns, YELLOW, 8.5, 1), "b": (panel_b_columns, YELLOW, 8.5, 1),
          "c": (panel_c_columns, GOLD, 10, 1.2), "d": (panel_d_columns, GOLD, 10, 1.2)}
for k, (cols, color, size, lw) in series.items():
    xs, ys = flatten(cols)
    fig.add_trace(go.Scatter(x=xs, y=ys, mode="markers", xaxis="x" + ids[k], yaxis="y" + ids[k], cliponaxis=False,
                             showlegend=False, marker=dict(color=color, size=size, line=dict(color=WHITE, width=lw))))

cfg = {
 "a": dict(xr=[0, 500], yr=[-15, 15], xt=a_x_ticks, xl=[str(v) for v in a_x_ticks], xmaj=a_major, yt=top_y_ticks, yl=top_y_labels, xm=20, ym=1, x0=0, y0=-15, ytitle=YT, ysoff=3, xtitle=None),
 "b": dict(xr=[500, 3500], yr=[-15, 15], xt=b_x_ticks, xl=[str(v) for v in b_x_ticks], xmaj=b_major, yt=top_y_ticks, yl=None, xm=100, ym=1, x0=500, y0=-15, ytitle=None, xtitle=None),
 "c": dict(xr=[53, 58], yr=[-1, 4], xt=c_x_ticks, xl=c_x_labels, xmaj=c_x_ticks, yt=c_y_ticks, yl=c_y_labels, xm=0.2, ym=0.2, x0=53, y0=-1, ytitle=YT, ysoff=18, xtitle="Time (Ma)"),
 "d": dict(xr=[500, 750], yr=[-15, 15], xt=d_x_ticks, xl=[str(v) for v in d_x_ticks], xmaj=d_x_ticks, yt=top_y_ticks, yl=top_y_labels, xm=10, ym=1, x0=500, y0=-15, ytitle=None, xtitle="Time (Ma)"),
}
layout = {}
for k, c in cfg.items():
    L, R, T, B = boxes[k]
    i, o = ids[k], over[k]
    common = dict(automargin=False, showgrid=False, zeroline=False, showline=True, linecolor=WHITE, linewidth=2, mirror=True,
                  ticks="outside", ticklen=9, tickwidth=2, tickcolor=WHITE, tickfont=TICKF)
    xkw = dict(title=dict(text="<b>%s</b>" % c["xtitle"], font=TITLEF, standoff=30)) if c["xtitle"] else {}
    layout["xaxis" + i] = dict(common, domain=[fx(L), fx(R)], range=c["xr"], anchor="y" + i, tickmode="array",
        tickvals=c["xt"], ticktext=c["xl"], ticklabelstandoff=-1,
        minor=dict(tick0=c["x0"], dtick=c["xm"], ticks="outside", ticklen=8, tickwidth=1.5, tickcolor=WHITE, showgrid=False), **xkw)
    ykw = dict(ticktext=c["yl"], ticklabelstandoff=2) if c["yl"] else dict(showticklabels=False)
    if c["ytitle"]:
        ykw["title"] = dict(text=c["ytitle"], font=dict(TITLEF, size=37), standoff=c["ysoff"])
    layout["yaxis" + i] = dict(common, domain=[fy(B), fy(T)], range=c["yr"], anchor="x" + i, tickmode="array",
        tickvals=c["yt"], minor=dict(tick0=c["y0"], dtick=c["ym"], ticks="outside", ticklen=8, tickwidth=1.5, tickcolor=WHITE, showgrid=False), **ykw)
    # second, label-free axes carry the inward half of the crossing major ticks
    layout["xaxis" + o] = dict(automargin=False, showgrid=False, zeroline=False, showline=False, domain=[fx(L), fx(R)], range=c["xr"],
        overlaying="x" + i, anchor="y" + i, side="bottom", tickmode="array", tickvals=c["xmaj"], ticks="inside", ticklen=10,
        tickwidth=2, tickcolor=WHITE, showticklabels=False)
    layout["yaxis" + o] = dict(automargin=False, showgrid=False, zeroline=False, showline=False, domain=[fy(B), fy(T)], range=c["yr"],
        overlaying="y" + i, anchor="x" + i, side="left", tickmode="array", tickvals=c["yt"], ticks="inside", ticklen=10,
        tickwidth=2, tickcolor=WHITE, showticklabels=False)

def poly(pts):
    return "M" + " L".join("%.5f,%.5f" % (fx(x), fy(y)) for x, y in pts) + " Z"

shapes = []
def blue(pts):
    shapes.append(dict(type="path", xref="paper", yref="paper", path=poly(pts), fillcolor=BLUE, line=dict(width=0), layer="below"))
def dash(x0, y0, x1, y1):
    shapes.append(dict(type="line", xref="paper", yref="paper", x0=fx(x0), y0=fy(y0), x1=fx(x1), y1=fy(y1),
                       line=dict(color=WHITE, width=2, dash="4px,2.5px"), layer="below"))
blue([(233, 18.5), (245, 18.5), (245, 358), (986, 509), (986, 981.5), (230.6, 981.5), (230.6, 509), (233, 358)])
dash(233, 18.5, 233, 358); dash(245, 18.5, 245, 358); dash(233, 358, 230.6, 509); dash(245, 358, 986, 509)
blue([(1118.5, 18.5), (1192, 18.5), (1192, 358), (1969, 509), (1969, 1075.7), (1118.5, 1075.7)])
dash(1192, 18.5, 1192, 358); dash(1118.5, 358, 1118.5, 509); dash(1192, 358, 1969, 509)

annotations = [dict(text="500", xref="paper", yref="paper", x=fx(1100), y=fy(392), showarrow=False,
                    xanchor="center", yanchor="middle", font=TICKF)]

fig.update_layout(width=W, height=H, margin=dict(l=0, r=0, t=0, b=0), paper_bgcolor=BG, plot_bgcolor="rgba(0,0,0,0)",
                  shapes=shapes, annotations=annotations, showlegend=False, **layout)
fig.write_html("out.html", config=dict(displayModeBar=False),
               post_script="document.body.style.margin='0';document.body.style.background='%s';" % BG)
